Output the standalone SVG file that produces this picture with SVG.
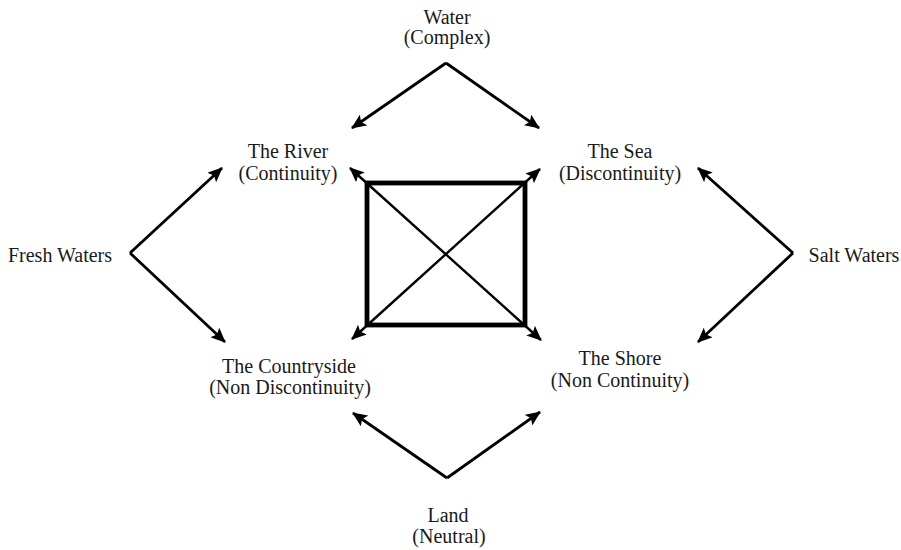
<svg xmlns="http://www.w3.org/2000/svg" width="901" height="550" viewBox="0 0 901 550">
<style>
text{font-family:"Liberation Serif","Times New Roman",serif;font-size:20px;fill:#1a1a1a;text-anchor:middle}
.c{fill:none;stroke:#000;stroke-width:2.8;stroke-linejoin:miter}
.d{fill:none;stroke:#000;stroke-width:2.4}
.sq{fill:none;stroke:#000;stroke-width:4.8}
</style>
<defs>
<marker id="ah" viewBox="0 0 15 13" refX="14" refY="6.5" markerWidth="15" markerHeight="13" markerUnits="userSpaceOnUse" orient="auto-start-reverse">
<path d="M0,0 L15,6.5 L0,13 L3,6.5 z" fill="#000"/>
</marker>
</defs>
<rect width="901" height="550" fill="#fff"/>
<g id="connectors">
<path class="c" d="M446,63 L352,128" marker-end="url(#ah)"/>
<path class="c" d="M446,63 L539,128" marker-end="url(#ah)"/>
<path class="c" d="M130,253 L222,168" marker-end="url(#ah)"/>
<path class="c" d="M130,253 L225,342" marker-end="url(#ah)"/>
<path class="c" d="M793,253 L698,168" marker-end="url(#ah)"/>
<path class="c" d="M793,253 L698,342" marker-end="url(#ah)"/>
<path class="c" d="M447,478 L353,413" marker-end="url(#ah)"/>
<path class="c" d="M447,478 L540,412" marker-end="url(#ah)"/>
<path class="d" d="M350,168 L541,340" marker-start="url(#ah)" marker-end="url(#ah)"/>
<path class="d" d="M352,339 L540,169" marker-start="url(#ah)" marker-end="url(#ah)"/>
</g>
<g id="square"><rect class="sq" x="367" y="183" width="158" height="142"/></g>
<g id="water"><text x="447" y="24">Water</text><text x="447" y="44">(Complex)</text></g>
<g id="river"><text x="288" y="158">The River</text><text x="288" y="180">(Continuity)</text></g>
<g id="sea"><text x="620" y="158">The Sea</text><text x="620" y="180">(Discontinuity)</text></g>
<g id="fresh"><text x="60" y="262">Fresh Waters</text></g>
<g id="salt"><text x="854" y="262">Salt Waters</text></g>
<g id="countryside"><text x="289" y="373">The Countryside</text><text x="290" y="394">(Non Discontinuity)</text></g>
<g id="shore"><text x="620" y="365">The Shore</text><text x="620" y="387">(Non Continuity)</text></g>
<g id="land"><text x="448" y="522">Land</text><text x="449" y="543">(Neutral)</text></g>
</svg>
